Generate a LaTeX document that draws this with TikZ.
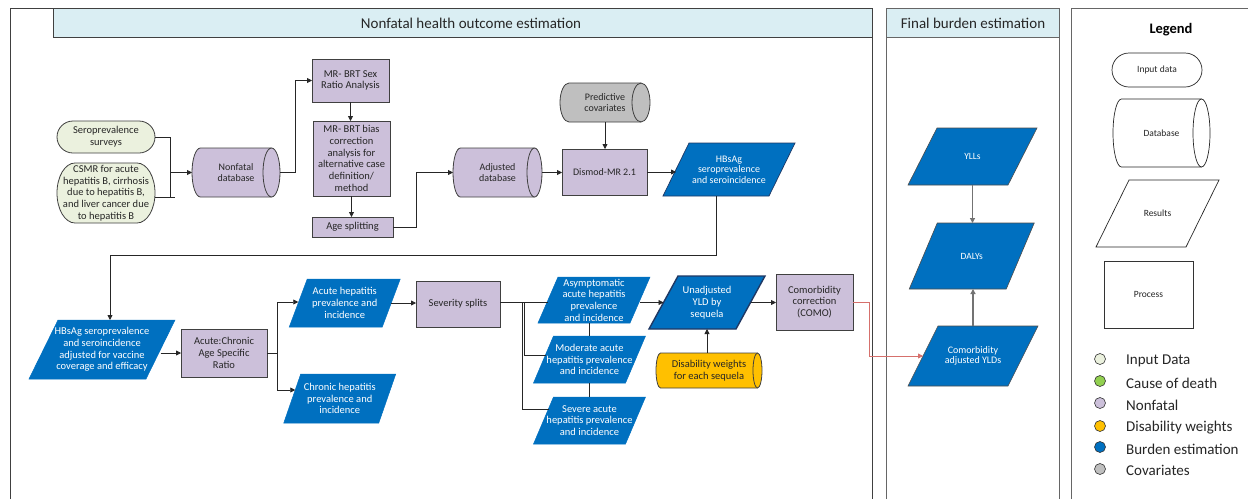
\documentclass[tikz,border=0pt]{standalone}
\usepackage{fontspec}
\setmainfont{Carlito}
\usetikzlibrary{arrows.meta,calc,backgrounds}
\definecolor{titlebg}{HTML}{DAEEF3}
\definecolor{nonfatal}{HTML}{CCC0DA}
\definecolor{burden}{HTML}{0070C0}
\definecolor{inputc}{HTML}{EBF1DE}
\definecolor{causec}{HTML}{92D050}
\definecolor{disabc}{HTML}{FFC000}
\definecolor{covarc}{HTML}{BFBFBF}
\definecolor{framec}{HTML}{404040}
\definecolor{edgec}{HTML}{404040}
\definecolor{redc}{HTML}{D6706C}
\definecolor{darkblue}{HTML}{1F3864}
\newcommand{\paraoutline}[3]{\path[#3] ([xshift=#2]#1.north west) -- ([xshift=#2]#1.north east) -- ([xshift=-#2]#1.south east) -- ([xshift=-#2]#1.south west) -- cycle;}
\newcommand{\pilloutline}[3]{\path[#3] let \p1=(#1.north), \p2=(#1.south), \n1={0.5*(\y1-\y2)} in ([xshift=#2]#1.north west) -- ([xshift=-#2]#1.north east) arc[start angle=90, end angle=-90, x radius=#2, y radius=\n1] -- ([xshift=#2]#1.south west) arc[start angle=270, end angle=90, x radius=#2, y radius=\n1] -- cycle;}
\newcommand{\cyloutline}[3]{\pilloutline{#1}{#2}{#3}\path[#3, fill=none] let \p1=(#1.north), \p2=(#1.south), \n1={0.5*(\y1-\y2)} in ([xshift=-#2]#1.north east) arc[start angle=90, end angle=270, x radius=#2, y radius=\n1];}
\tikzset{
  box/.style={rectangle, inner sep=0pt, outer sep=0pt, align=center, font=\fontsize{10.5}{11.7}\selectfont, text=black!85},
  smallt/.style={font=\fontsize{10}{10.5}\selectfont},
  tinyt/.style={font=\fontsize{9.5}{11}\selectfont},
  proc/.style={box, draw=edgec, fill=nonfatal, line width=0.9pt},
  para/.style={box, text=white},
  cyl/.style={box},
  inp/.style={box},
  conn/.style={draw=black!85, line width=0.8pt},
  arr/.style={conn, -{Triangle[length=5pt,width=5pt]}},
  garr/.style={draw=black!55, line width=1.3pt, -{Triangle[length=5pt,width=5pt]}},
  redarr/.style={draw=redc, line width=0.8pt, -{Triangle[length=5pt,width=5pt]}},
  pshape/.style={fill=burden, draw=burden, line width=0.5pt},
  legdot/.style={circle, draw=black!80, line width=0.6pt, minimum size=11pt, inner sep=0pt},
  legtext/.style={anchor=west, font=\fontsize{15}{17}\selectfont, text=black!85, inner sep=0pt},
  frame/.style={draw=framec, line width=0.9pt},
  titlet/.style={font=\fontsize{15}{17}\selectfont, text=black!85}
}
\begin{document}
\begin{tikzpicture}[x=1pt,y=1pt]
\useasboundingbox (0,0) rectangle (1248,-499);
% titles
\node[titlet] (tnf) at (471,-23) {Nonfatal health outcome estimation};
\node[titlet] (tfb) at (973,-23) {Final burden estimation};
\node[font=\fontsize{14.5}{16}\selectfont\bfseries] (legtitle) at (1171,-30) {Legend};
% nonfatal nodes
\node[inp, minimum width=98pt, minimum height=32pt] (sero) at (106,-137) {Seroprevalence\\surveys};
\node[inp, minimum width=98pt, minimum height=60pt] (csmr) at (106,-193) {CSMR for acute\\hepatitis B, cirrhosis\\due to hepatitis B,\\and liver cancer due\\to hepatitis B};
\node[cyl, smallt, minimum width=88pt, minimum height=49pt] (nfdb) at (236,-172.5) {Nonfatal\\database};
\node[proc, minimum width=77pt, minimum height=43pt] (sexratio) at (350.5,-80.5) {MR- BRT Sex\\Ratio Analysis};
\node[proc, minimum width=77pt, minimum height=75pt] (bias) at (351.5,-158.5) {MR- BRT bias\\correction\\analysis for\\alternative case\\definition/\\method};
\node[proc, minimum width=81pt, minimum height=20pt] (agesplit) at (352.5,-227) {Age splitting};
\node[cyl, smallt, minimum width=89pt, minimum height=49pt] (adjdb) at (497.5,-172.5) {Adjusted\\database};
\node[cyl, smallt, minimum width=90pt, minimum height=39pt] (covar) at (605,-102.5) {Predictive\\covariates};
\node[proc, smallt, minimum width=85pt, minimum height=46pt] (dismod) at (604.5,-172) {Dismod-MR 2.1};
\node[para, smallt, minimum width=106pt, minimum height=53pt] (hbs) at (729,-169.5) {HBsAg\\seroprevalence\\and seroincidence};
\node[para, minimum width=117pt, minimum height=59pt] (hbsadj) at (102,-349.5) {HBsAg seroprevalence\\and seroincidence\\adjusted for vaccine\\coverage and efficacy};
\node[proc, minimum width=86pt, minimum height=48pt] (acr) at (224,-353) {Acute:Chronic\\Age Specific\\Ratio};
\node[para, minimum width=93pt, minimum height=48pt] (acute) at (344.75,-303) {Acute hepatitis\\prevalence and\\incidence};
\node[para, minimum width=95pt, minimum height=49pt] (chronic) at (339.75,-398.5) {Chronic hepatitis\\prevalence and\\incidence};
\node[proc, minimum width=84pt, minimum height=46pt] (severity) at (458,-304) {Severity splits};
\node[para, minimum width=92pt, minimum height=46pt] (asym) at (594,-300) {Asymptomatic\\acute hepatitis\\prevalence\\and incidence};
\node[para, minimum width=92pt, minimum height=47pt] (moderate) at (589.5,-359.5) {Moderate acute\\hepatitis prevalence\\and incidence};
\node[para, minimum width=92pt, minimum height=47pt] (severe) at (589.5,-420.5) {Severe acute\\hepatitis prevalence\\and incidence};
\node[para, minimum width=87pt, minimum height=53pt] (unadj) at (707,-302.5) {Unadjusted\\YLD by\\sequela};
\node[cyl, minimum width=106pt, minimum height=35pt] (disab) at (709,-370.5) {Disability weights\\for each sequela};
\node[proc, minimum width=77pt, minimum height=56pt] (como) at (814.5,-302) {Comorbidity\\correction\\(COMO)};
% final burden nodes
\node[para, tinyt, minimum width=100pt, minimum height=57pt] (yll) at (972.5,-156.5) {YLLs};
\node[para, tinyt, minimum width=97pt, minimum height=66pt] (daly) at (971.75,-256) {DALYs};
\node[para, smallt, minimum width=100pt, minimum height=60pt] (cyld) at (973,-356) {Comorbidity\\adjusted YLDs};
% legend nodes
\node[box, tinyt, minimum width=90pt, minimum height=34pt] (lin) at (1157,-70) {Input data};
\node[box, tinyt, minimum width=97pt, minimum height=68pt] (ldb) at (1161.5,-133) {Database};
\node[box, tinyt, minimum width=90pt, minimum height=67pt] (lres) at (1157.5,-213.5) {Results};
\node[box, tinyt, draw=black!80, line width=0.8pt, minimum width=89pt, minimum height=67pt] (lproc) at (1148.5,-294.5) {Process};
\node[legdot, fill=inputc] (d1) at (1100,-359) {};
\node[legdot, fill=causec] (d2) at (1100,-381) {};
\node[legdot, fill=nonfatal] (d3) at (1100,-403) {};
\node[legdot, fill=disabc] (d4) at (1100,-426) {};
\node[legdot, fill=burden] (d5) at (1100,-447) {};
\node[legdot, fill=covarc] (d6) at (1100,-469) {};
\node[legtext] (l1) at (1126,-361) {Input Data};
\node[legtext] (l2) at (1126,-383) {Cause of death};
\node[legtext] (l3) at (1126,-405) {Nonfatal};
\node[legtext] (l4) at (1126,-428) {Disability weights};
\node[legtext] (l5) at (1126,-449) {Burden estimation};
\node[legtext] (l6) at (1126,-470) {Covariates};
% background shapes
\begin{scope}[on background layer]
\fill[white] (0,0) rectangle (1248,-499);
\draw[frame] (10,-499) -- (10,-8) -- (872,-8) -- (872,-499);
\draw[frame, fill=titlebg] (53,-8) rectangle (872,-37);
\draw[frame, draw=black!60] (886,-499) -- (886,-8) -- (1059,-8) -- (1059,-499);
\draw[frame, draw=black!60, fill=titlebg] (886,-8) rectangle (1059,-37);
\draw[frame, draw=black!60] (1071,-499) -- (1071,-8) -- (1248,-8);
\pilloutline{sero}{16pt}{fill=inputc, draw=edgec, line width=0.8pt}
\pilloutline{csmr}{18pt}{fill=inputc, draw=edgec, line width=0.8pt}
\cyloutline{nfdb}{8.5pt}{fill=nonfatal, draw=edgec, line width=0.8pt}
\cyloutline{adjdb}{7.5pt}{fill=nonfatal, draw=edgec, line width=0.8pt}
\cyloutline{covar}{9pt}{fill=covarc, draw=edgec, line width=0.8pt}
\cyloutline{disab}{4.5pt}{fill=disabc, draw=edgec, line width=0.8pt}
\paraoutline{hbs}{13pt}{pshape, draw=darkblue, line width=0.7pt}
\paraoutline{hbsadj}{14.5pt}{pshape}
\paraoutline{acute}{9pt}{pshape}
\paraoutline{chronic}{8.5pt}{pshape}
\paraoutline{asym}{10pt}{pshape}
\paraoutline{moderate}{10pt}{pshape}
\paraoutline{severe}{10pt}{pshape}
\paraoutline{unadj}{14.5pt}{pshape, draw=darkblue, line width=1.4pt}
\paraoutline{yll}{14.5pt}{pshape, draw=black!70, line width=0.6pt}
\paraoutline{daly}{14pt}{pshape, draw=black!70, line width=0.6pt}
\paraoutline{cyld}{15pt}{pshape, draw=black!70, line width=0.6pt}
\pilloutline{lin}{17pt}{fill=white, draw=black!85, line width=0.7pt}
\cyloutline{ldb}{8.5pt}{fill=white, draw=black!85, line width=0.7pt}
\paraoutline{lres}{16.5pt}{fill=white, draw=black!85, line width=0.7pt}
\end{scope}
% connectors
\coordinate (jA) at (170,-197);
\coordinate (jB) at (175,-197);
\draw[conn] (sero.east) -| (jA);
\draw[conn] ([yshift=-4pt]csmr.east) -- (jB);
\draw[arr] (jA |- nfdb.west) -- (nfdb.west);
\draw[arr] (nfdb.east) -- ++(15,0) |- (sexratio.west);
\draw[arr] (sexratio.south) -- (sexratio.south |- bias.north);
\draw[arr] (bias.south) -- (bias.south |- agesplit.north);
\draw[arr] (agesplit.east) -- ++(23,0) |- (adjdb.west);
\draw[arr] (adjdb.east) -- (adjdb.east -| dismod.west);
\draw[arr] (covar.south) -- (covar.south |- dismod.north);
\draw[arr] (dismod.east) -- (dismod.east -| hbs.west);
\coordinate (turn) at (110,-255);
\draw[arr] ([xshift=-13pt]hbs.south) |- (turn) -- (turn |- hbsadj.north);
\draw[arr] ([yshift=-3.5pt]hbsadj.east) -- (acr.west);
\draw[arr] (acr.east) -- ++(10,0) |- ([yshift=1pt]acute.west);
\draw[arr] (acr.east) -- ++(10,0) |- ([xshift=3pt,yshift=8.5pt]chronic.west);
\draw[arr] (acute.east) -- (acute.east -| severity.west);
\draw[conn] ([yshift=2pt]severity.east) -- ([yshift=2pt]severity.east -| asym.west);
\draw[conn] ([xshift=22pt,yshift=2pt]severity.east) |- ([xshift=5pt,yshift=11.5pt]severe.west);
\draw[conn] ([xshift=24pt,yshift=2pt]severity.east) |- ([xshift=2pt,yshift=4pt]moderate.west);
\draw[conn] (moderate.north |- asym.south) -- (moderate.north);
\draw[conn] (moderate.south) -- (severe.north);
\draw[arr] (asym.east |- unadj.west) -- (unadj.west);
\draw[arr] (unadj.east) -- (unadj.east -| como.west);
\draw[arr] (unadj.south |- disab.north) -- (unadj.south);
\draw[redarr] (como.east) -- ++(16,0) |- (cyld.west);
\draw[garr] (yll.south) -- (yll.south |- daly.north);
\draw[garr] (cyld.north) -- (cyld.north |- daly.south);
\end{tikzpicture}
\end{document}
